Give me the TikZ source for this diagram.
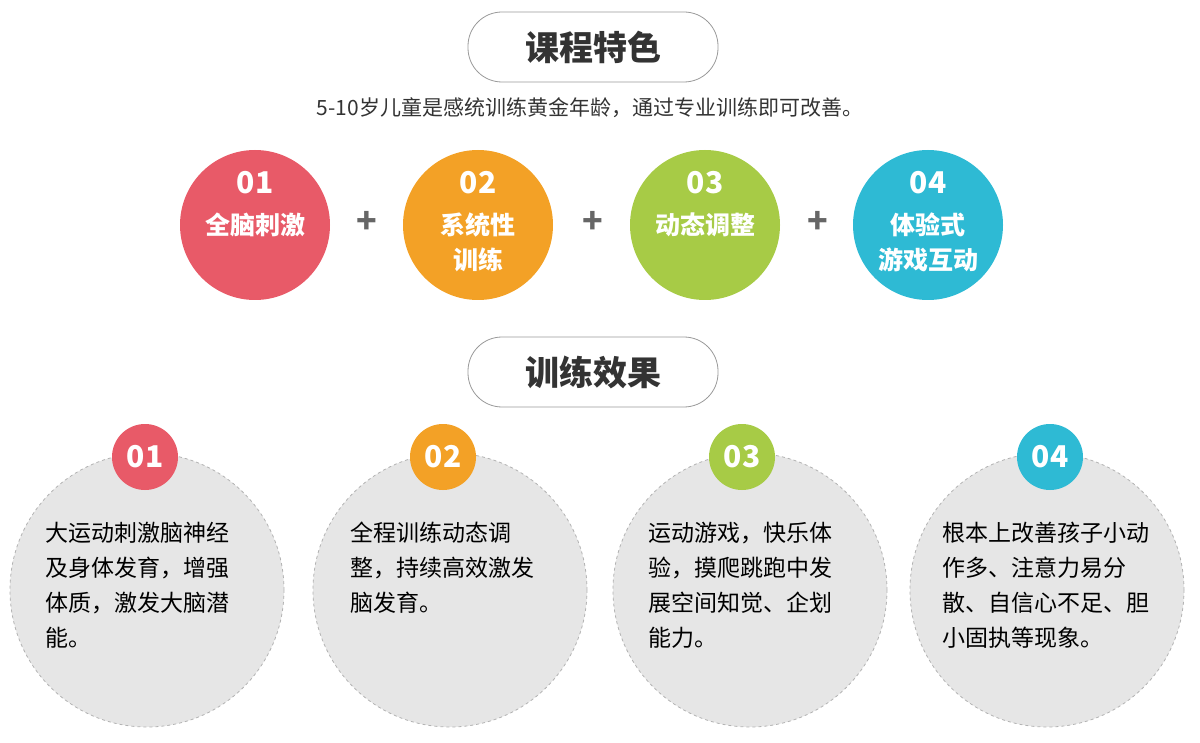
\documentclass[tikz,border=0pt]{standalone}
\usepackage{fontspec}
\setmainfont{Noto Sans CJK SC}
\definecolor{c1}{HTML}{E85A68}
\definecolor{c2}{HTML}{F3A126}
\definecolor{c3}{HTML}{A7CB46}
\definecolor{c4}{HTML}{2EBAD4}
\definecolor{pale}{HTML}{E6E6E6}
\definecolor{ink}{HTML}{333333}
\tikzset{
  pill/.style={draw=gray!80,thick,rounded corners=34pt,minimum width=250pt,minimum height=70pt,
    font=\fontsize{34}{34}\selectfont\bfseries,text=ink},
  feat/.style={circle,minimum size=150pt},
  featlbl/.style={text=white,align=center,inner sep=0pt,font=\fontsize{25}{35}\selectfont\bfseries},
  plus/.style={font=\fontsize{34}{34}\selectfont\bfseries,text=gray!80!black},
  big/.style={circle,fill=pale,draw=gray!60,dashed,thick,minimum size=274pt},
  num/.style={circle,minimum size=66pt,text=white,font=\fontsize{30}{30}\selectfont\bfseries},
  body/.style={anchor=north west,align=left,inner sep=0pt,text=black,font=\fontsize{23}{35}\selectfont},
}
\begin{document}
\begin{tikzpicture}[x=1pt,y=-1pt]
\useasboundingbox (0,0) rectangle (1200,743);
\node[pill] (t1) at (593,47) {课程特色};
\node[text=ink,font=\fontsize{21}{21}\selectfont] (sub) at (590,108) {5-10岁儿童是感统训练黄金年龄，通过专业训练即可改善。};
% features
\foreach \x/\c/\n/\t/\y [count=\i] in {255/c1/01/全脑刺激/225, 478/c2/02/系统性\\训练/242, 705/c3/03/动态调整/225, 928/c4/04/体验式\\游戏互动/242}{
  \node[feat,fill=\c] (f\i) at (\x,225) {};
  \node[text=white,font=\fontsize{30}{30}\selectfont\bfseries] (fn\i) at (\x,183) {\n};
  \node[featlbl] (ft\i) at (\x,\y) {\t};
}
\foreach \x [count=\i] in {367,593,818}
  \node[plus] (p\i) at (\x,222) {+};
\node[pill] (t2) at (593,372) {训练效果};
% effects
\foreach \x/\s/\c/\n [count=\i] in {147/145/c1/01, 450/443/c2/02, 750/742/c3/03, 1047/1050/c4/04}{
  \node[big] (b\i) at (\x,590) {};
  \node[num,fill=\c] (n\i) at (\s,457) {\n};
}
\node[body] (e1) at (45,522) {大运动刺激脑神经\\及身体发育，增强\\体质，激发大脑潜\\能。};
\node[body] (e2) at (350,522) {全程训练动态调\\整，持续高效激发\\脑发育。};
\node[body] (e3) at (648,522) {运动游戏，快乐体\\验，摸爬跳跑中发\\展空间知觉、企划\\能力。};
\node[body] (e4) at (942,522) {根本上改善孩子小动\\作多、注意力易分\\散、自信心不足、胆\\小固执等现象。};
\end{tikzpicture}
\end{document}
